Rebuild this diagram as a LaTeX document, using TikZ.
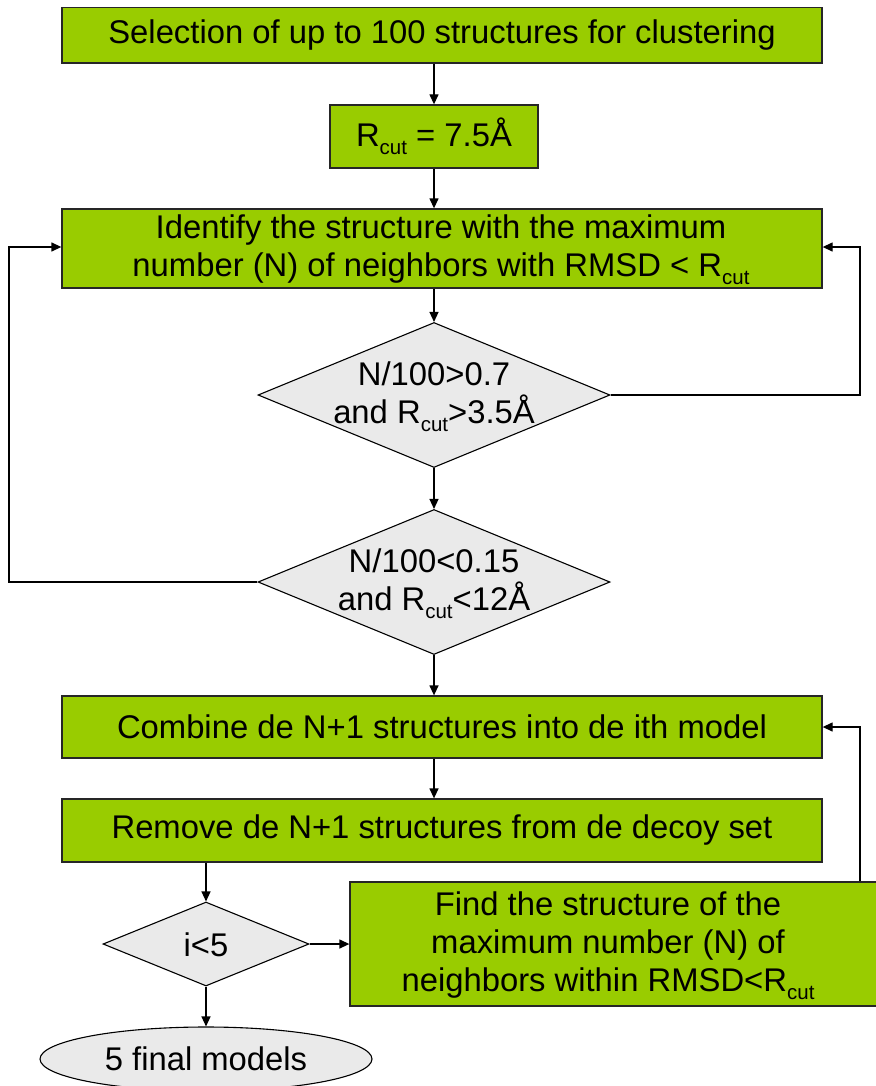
\documentclass[tikz,border=0pt]{standalone}
\usepackage{fontspec}
\setmainfont{Liberation Sans}
\usetikzlibrary{shapes.geometric,arrows.meta}
\definecolor{boxgreen}{HTML}{99CC00}
\definecolor{decgray}{HTML}{EAEAEA}
% R with a lowered, smaller "cut" subscript
\newcommand\Rcut{R\raisebox{-8pt}{\fontsize{20.5}{20.5}\selectfont cut}}
\begin{document}
\begin{tikzpicture}[x=1pt,y=-1pt,
  every node/.style={font=\fontsize{32.8}{38}\selectfont},
  greenbox/.style={rectangle, draw=black!85, line width=1.3pt, fill=boxgreen, inner sep=0pt, align=center},
  decision/.style={diamond, draw=black, line width=1.1pt, fill=decgray, inner sep=0pt},
  terminal/.style={ellipse, draw=black, line width=1.1pt, fill=decgray, inner sep=0pt},
  txt/.style={align=center, inner sep=0pt},
  arr/.style={-{Triangle[length=10pt,width=9pt]}, line width=1.3pt}]
\useasboundingbox (0,0) rectangle (875,1086);

% first step (its top edge runs off the page)
\begin{scope}
  \clip (0,8) rectangle (875,100);
  \node[greenbox, minimum width=760pt, minimum height=56pt] (sel) at (442,35)
    {Selection of up to 100 structures for clustering};
\end{scope}

\node[greenbox, minimum width=208pt, minimum height=63pt] (rcut) at (434,136.5) {\Rcut{} = 7.5Å};

\node[greenbox, minimum width=760pt, minimum height=79pt] (ident) at (442,248.5) {};
\node[txt] (identtext) at (441,250)
  {Identify the structure with the maximum\\number (N) of neighbors with RMSD < \Rcut};

\node[decision, minimum width=352pt, minimum height=145pt] (d1) at (434,395) {};
\node[txt] (d1text) at (434,397) {N/100>0.7\\and \Rcut>3.5Å};

\node[decision, minimum width=352pt, minimum height=145pt] (d2) at (434,582) {};
\node[txt] (d2text) at (434,584) {N/100<0.15\\and \Rcut<12Å};

\node[greenbox, minimum width=760pt, minimum height=62pt] (comb) at (442,727)
  {Combine de N+1 structures into de ith model};
\node[greenbox, minimum width=760pt, minimum height=63pt] (rem) at (442,830.5)
  {Remove de N+1 structures from de decoy set};

\node[decision, minimum width=206pt, minimum height=84pt] (d3) at (206,944) {};
\node[txt] (d3text) at (206,945) {i<5};

\node[greenbox, minimum width=535pt, minimum height=124pt] (find) at (617.5,944) {};
\node[txt] (findtext) at (608,946)
  {Find the structure of the\\maximum number (N) of\\neighbors within RMSD<\Rcut};

\node[terminal, minimum width=332pt, minimum height=64pt] (ell) at (206,1059) {5 final models};

% loop-back rails
\coordinate (rrail) at (860,0);
\coordinate (lrail) at (9,0);

% main flow
\draw[arr] (sel.south -| rcut.north) -- (rcut.north);
\draw[arr] (rcut.south) -- (rcut.south |- ident.north);
\draw[arr] (ident.south -| d1.north) -- (d1.north);
\draw[arr] (d1.south) -- (d2.north);
\draw[arr] (d2.south) -- (d2.south |- comb.north);
\draw[arr] (comb.south -| d2.south) -- (d2.south |- rem.north);
\draw[arr] (rem.south -| d3.north) -- (d3.north);
\draw[arr] (d3.east) -- (find.west);
\draw[arr] (d3.south) -- (ell.north);

% loops
\draw[arr] (d1.east) -| ([yshift=1.5pt]rrail |- ident.east) -- ([yshift=1.5pt]ident.east);
\draw[arr] (d2.west) -| ([yshift=1.5pt]lrail |- ident.west) -- ([yshift=1.5pt]ident.west);
\draw[arr] (find.north -| rrail) |- (comb.east);
\end{tikzpicture}
\end{document}
